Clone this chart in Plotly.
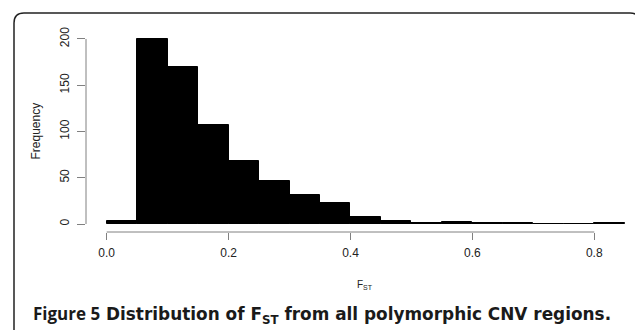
import plotly.graph_objects as go

# ---- data ----
bin_width = 0.05
bin_lefts = [0.00, 0.05, 0.10, 0.15, 0.20, 0.25, 0.30, 0.35, 0.40,
             0.45, 0.50, 0.55, 0.60, 0.65, 0.70, 0.75, 0.80]
counts = [3, 200, 170, 107, 68, 47, 31, 23, 8, 3, 1, 2, 1, 1, 0, 0, 1]
x_ticks = [0.0, 0.2, 0.4, 0.6, 0.8]
x_tick_labels = ["0.0", "0.2", "0.4", "0.6", "0.8"]
y_ticks = [0, 50, 100, 150, 200]
y_tick_labels = ["0", "50", "100", "150", "200"]

W, H = 635, 330
L, R, T, B = 86, 635, 30, 232  # plot area pixel box

def px(x):
    return (x - L) / (R - L)

def py(y):
    return (B - y) / (B - T)

centers = [b + bin_width / 2 for b in bin_lefts]

fig = go.Figure()
fig.add_trace(go.Bar(
    x=centers, y=counts, width=bin_width,
    marker=dict(color="black", line=dict(color="black", width=1)),
    hoverinfo="skip",
))

axis_grey = "#808080"
tick_font = dict(family="Liberation Sans, Arial, sans-serif", size=12, color="#222222")

fig.update_layout(
    width=W, height=H,
    margin=dict(l=L, r=W - R, t=T, b=H - B, pad=0),
    paper_bgcolor="white", plot_bgcolor="white",
    showlegend=False,
    bargap=0,
    xaxis=dict(
        range=[-0.03396, 0.8668], showgrid=False, zeroline=False, showline=False,
        tickmode="array", tickvals=x_ticks, ticktext=x_tick_labels,
        ticks="outside", ticklen=7, tickcolor=axis_grey, tickwidth=1,
        tickfont=tick_font, ticklabelstandoff=3,
    ),
    yaxis=dict(
        range=[-8.65, 209.7], showgrid=False, zeroline=False, showline=False,
        tickmode="array", tickvals=y_ticks, ticktext=y_tick_labels,
        ticks="outside", ticklen=8, tickcolor=axis_grey, tickwidth=1,
        tickangle=-90, tickfont=tick_font, ticklabelstandoff=3,
    ),
    shapes=[
        # detached R-style axis lines
        dict(type="line", xref="x", yref="paper", x0=x_ticks[0], x1=x_ticks[-1],
             y0=0, y1=0, line=dict(color=axis_grey, width=1)),
        dict(type="line", xref="paper", yref="y", x0=0, x1=0,
             y0=y_ticks[0], y1=y_ticks[-1], line=dict(color=axis_grey, width=1)),
        # rounded frame
        dict(type="path", xref="paper", yref="paper",
             path=(f"M {px(14)} {py(340)} L {px(14)} {py(23)} "
                   f"Q {px(14)} {py(13)} {px(24)} {py(13)} "
                   f"L {px(630)} {py(13)} "
                   f"Q {px(640)} {py(13)} {px(640)} {py(23)} "
                   f"L {px(640)} {py(340)}"),
             line=dict(color="#222222", width=1.5)),
    ],
    annotations=[
        dict(text="Frequency", xref="paper", yref="paper", x=px(35), y=py(131.5),
             showarrow=False, textangle=-90, xanchor="center", yanchor="middle",
             font=dict(family="Liberation Sans, Arial, sans-serif", size=12, color="#222222")),
        dict(text="F<sub>ST</sub>", xref="paper", yref="paper", x=px(365), y=py(285),
             showarrow=False, xanchor="center", yanchor="middle",
             font=dict(family="Liberation Sans, Arial, sans-serif", size=10, color="#222222")),
        dict(text="<b>Figure 5</b>",
             xref="paper", yref="paper", x=px(31), y=py(313),
             showarrow=False, xanchor="left", yanchor="middle",
             font=dict(family="Open Sans, sans-serif", size=17, color="#1a1a1a")),
        dict(text="Distribution of F<sub>ST</sub> from all polymorphic CNV regions.",
             xref="paper", yref="paper", x=px(104), y=py(315),
             showarrow=False, xanchor="left", yanchor="middle",
             font=dict(family="DejaVu Sans, sans-serif", size=16.9, color="#1a1a1a", weight=700)),
    ],
)

fig.write_html("out.html")
